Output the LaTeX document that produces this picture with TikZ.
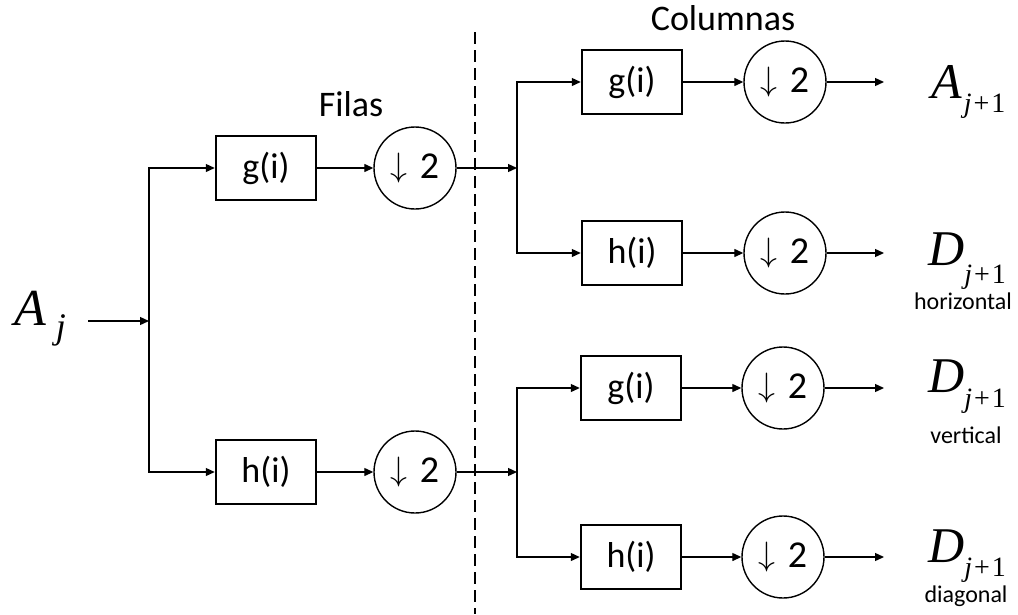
\documentclass[tikz,border=0pt]{standalone}
\usepackage{graphicx}
\usepackage{fontspec}
\setmainfont{Carlito}
\newfontfamily\tms{Liberation Serif}
\usetikzlibrary{arrows.meta}
\newcommand\dnsym{\raisebox{2.5pt}{\scalebox{1.36}{\fontsize{24.88}{26}\selectfont$\downarrow$}}\hspace{0.32em}2}
\newcommand\sub[1]{\raisebox{-#1pt}{\fontsize{28}{28}\selectfont\textit{j}\kern2pt+\kern2pt1}}
\begin{document}
\begin{tikzpicture}[x=1pt,y=-1pt,
  box/.style={draw, line width=2.5pt, minimum width=100pt, minimum height=64pt, inner sep=0pt, font=\fontsize{36}{40}\selectfont},
  dwn/.style={draw, circle, line width=1.4pt, minimum size=82pt, inner sep=0pt, font=\fontsize{38}{40}\selectfont},
  arr/.style={line width=1.3pt, -{Triangle[length=9pt,width=8pt]}},
  ttl/.style={anchor=base, inner sep=0pt, font=\fontsize{36}{40}\selectfont},
  mlab/.style={anchor=base west, inner sep=0pt},
  slab/.style={anchor=base, inner sep=0pt, font=\fontsize{24}{28}\selectfont}]
\useasboundingbox (0,0) rectangle (1018,614);

% first stage
\node[box] (g1) at (266,168) {g(i)};
\node[box] (h1) at (266,472) {h(i)};
\node[dwn] (d1) at (415,168) {\dnsym};
\node[dwn] (d2) at (415,472) {\dnsym};

% second stage
\node[box] (g2) at (632,82) {g(i)};
\node[box] (h2) at (632,253) {h(i)};
\node[box] (g3) at (631,388) {g(i)};
\node[box] (h3) at (631,557) {h(i)};
\node[dwn] (c2) at (785,82) {\dnsym};
\node[dwn] (c3) at (785,253) {\dnsym};
\node[dwn] (c4) at (783,388) {\dnsym};
\node[dwn] (c5) at (783,557) {\dnsym};

% titles
\node[ttl] (filas) at (351,116) {Filas};
\node[ttl] (col) at (723,30) {Columnas};

% dashed separator
\draw[line width=1.4pt, dash pattern=on 12pt off 6pt] (475,32) -- (475,614);

% input label
\node[mlab] (Aj) at (14,325) {{\tms\itshape\fontsize{52}{52}\selectfont A\kern10pt\raisebox{-13pt}{\fontsize{36}{36}\selectfont j}}};

% output labels
\node[mlab] (A1) at (931,98) {{\tms\fontsize{50}{50}\selectfont\textit{A}\kern2pt\sub{14}}};
\node[mlab] (D1) at (928,265) {{\tms\fontsize{50}{50}\selectfont\textit{D}\kern0pt\sub{18}}};
\node[mlab] (D2) at (928,392) {{\tms\fontsize{50}{50}\selectfont\textit{D}\kern0pt\sub{15}}};
\node[mlab] (D3) at (928,562) {{\tms\fontsize{50}{50}\selectfont\textit{D}\kern0pt\sub{14}}};
\node[slab] (lh) at (963,309) {horizontal};
\node[slab] (lv) at (966,443) {vertical};
\node[slab] (ld) at (966,602) {diagonal};

% connector points
\coordinate (ain) at (88,321);
\coordinate (s1) at (149,321);
\coordinate (s2) at (517,168);
\coordinate (s3) at (517,472);
\coordinate (o1) at (884,82);
\coordinate (o2) at (884,253);
\coordinate (o3) at (884,388);
\coordinate (o4) at (884,557);

% connectors
\draw[arr] (ain) -- (s1);
\draw[arr] (s1) |- (g1.west);
\draw[arr] (s1) |- (h1.west);
\draw[arr] (g1.east) -- (d1.west);
\draw[arr] (h1.east) -- (d2.west);
\draw[arr] (d1.east) -- (s2);
\draw[arr] (d2.east) -- (s3);
\draw[arr] (s2) |- (g2.west);
\draw[arr] (s2) |- (h2.west);
\draw[arr] (s3) |- (g3.west);
\draw[arr] (s3) |- (h3.west);
\draw[arr] (g2.east) -- (c2.west);
\draw[arr] (h2.east) -- (c3.west);
\draw[arr] (g3.east) -- (c4.west);
\draw[arr] (h3.east) -- (c5.west);
\draw[arr] (c2.east) -- (o1);
\draw[arr] (c3.east) -- (o2);
\draw[arr] (c4.east) -- (o3);
\draw[arr] (c5.east) -- (o4);
\end{tikzpicture}
\end{document}
